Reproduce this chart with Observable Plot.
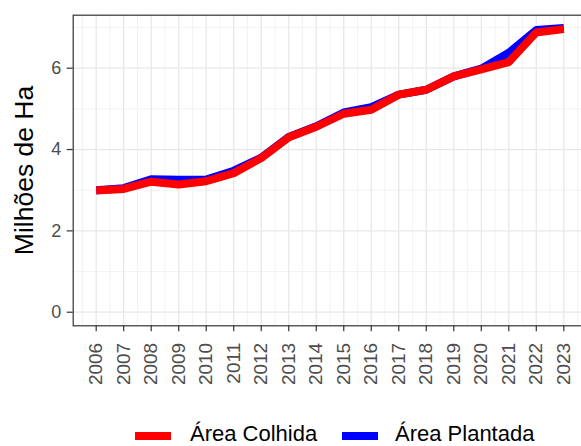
<!DOCTYPE html>
<html>
<head>
<meta charset="utf-8">
<script src="https://cdn.jsdelivr.net/npm/d3@7"></script>
<script src="https://cdn.jsdelivr.net/npm/@observablehq/plot@0.6"></script>
<style>
  html, body { margin: 0; padding: 0; background: #fff; }
  #wrap { position: relative; width: 581px; height: 446px; overflow: hidden; font-family: "Liberation Sans", Arial, sans-serif; }
  #legend { position: absolute; left: 0; top: 418px; width: 581px; height: 28px; }
  .key { position: absolute; height: 8px; width: 36px; top: 14px; }
  .lab { position: absolute; top: 2px; font-size: 22px; color: #000; line-height: 28px; white-space: nowrap; }
</style>
</head>
<body>
<div id="wrap">
  <div id="chart"></div>
  <div id="legend"></div>
</div>
<script>
const years = [2006,2007,2008,2009,2010,2011,2012,2013,2014,2015,2016,2017,2018,2019,2020,2021,2022,2023];
const areaColhida  = [2.99,3.03,3.21,3.14,3.22,3.42,3.79,4.30,4.56,4.88,4.98,5.35,5.47,5.80,5.97,6.15,6.88,6.96];
const areaPlantada = [3.00,3.05,3.27,3.26,3.26,3.48,3.80,4.31,4.57,4.91,5.04,5.35,5.47,5.80,5.99,6.38,6.94,6.99];
const seriesNames = ["Área Colhida", "Área Plantada"];
const seriesColors = ["#FF0000", "#0000FF"];
const yTicks = [0, 2, 4, 6];
const yMinor = [1, 3, 5, 7];
const xMinor = [2005.5, ...years.map(y => y + 0.5)];
const yTitle = "Milhões de Ha";

const data = [];
years.forEach((yr, i) => {
  data.push({year: yr, value: areaPlantada[i], serie: seriesNames[1]});
  data.push({year: yr, value: areaColhida[i], serie: seriesNames[0]});
});
const plantada = data.filter(d => d.serie === seriesNames[1]);
const colhida = data.filter(d => d.serie === seriesNames[0]);

const W = 581, H = 418;
const mL = 72.7, mT = 14.7, mB = H - 325.3, mR = -5.3;

const chart = Plot.plot({
  width: W, height: H,
  marginLeft: mL, marginTop: mT, marginBottom: mB, marginRight: mR,
  style: {fontFamily: '"Liberation Sans", Arial, sans-serif', background: "#fff", overflow: "hidden"},
  x: {domain: [2005.164, 2023.836], label: null},
  y: {domain: [-0.334, 7.303], label: null},
  marks: [
    Plot.ruleX(xMinor, {stroke: "#f0f0f0", strokeWidth: 0.8}),
    Plot.ruleY(yMinor, {stroke: "#f0f0f0", strokeWidth: 0.8}),
    Plot.ruleX(years, {stroke: "#e8e8e8", strokeWidth: 1.3}),
    Plot.ruleY(yTicks, {stroke: "#e8e8e8", strokeWidth: 1.3}),
    Plot.line(plantada, {x: "year", y: "value", stroke: seriesColors[1], strokeWidth: 8, strokeLinecap: "butt", strokeLinejoin: "round"}),
    Plot.line(colhida, {x: "year", y: "value", stroke: seriesColors[0], strokeWidth: 8, strokeLinecap: "butt", strokeLinejoin: "round"}),
    Plot.frame({stroke: "#333333", strokeWidth: 1.2}),
    Plot.axisY(yTicks, {tickSize: 6, tickPadding: 6, fontSize: 18, color: "#4d4d4d", stroke: "#333333", strokeWidth: 1.2, label: null, tickFormat: d => String(d)}),
    Plot.axisX(years, {tickSize: 6, tickPadding: 11, fontSize: 19, color: "#4d4d4d", stroke: "#333333", strokeWidth: 1.2, tickRotate: -90, label: null, tickFormat: d => String(d)}),
    Plot.text([yTitle], {frameAnchor: "left", textAnchor: "middle", dx: -mL + 24, rotate: -90, fontSize: 26.5, fill: "#000"})
  ]
});
document.getElementById("chart").appendChild(chart);

const legend = document.getElementById("legend");
const keyPos = [135, 341.7];
const labPos = [190, 395];
seriesNames.forEach((name, i) => {
  const k = document.createElement("div");
  k.className = "key";
  k.style.left = keyPos[i] + "px";
  k.style.background = seriesColors[i];
  legend.appendChild(k);
  const t = document.createElement("div");
  t.className = "lab";
  t.style.left = labPos[i] + "px";
  t.textContent = name;
  legend.appendChild(t);
});
</script>
</body>
</html>
